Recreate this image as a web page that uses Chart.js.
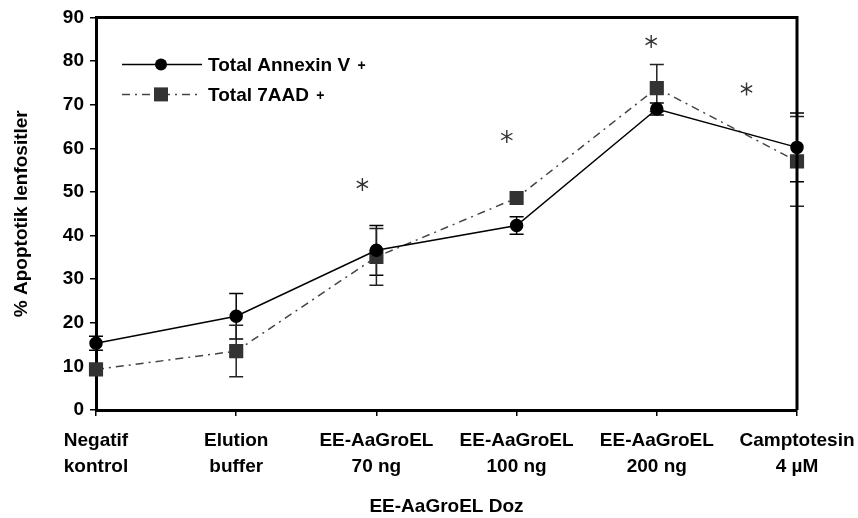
<!DOCTYPE html>
<html>
<head>
<meta charset="utf-8">
<script src="https://cdn.jsdelivr.net/npm/chart.js@4"></script>
<style>
  html, body { margin: 0; padding: 0; background: #fff; }
  #wrap { width: 858px; height: 518px; }
</style>
</head>
<body>
<div id="wrap"><canvas id="grafik" width="858" height="518"></canvas></div>
<script>
// kategoriler ve olcumler
var dozlar = [["Negatif", "kontrol"], ["Elution", "buffer"], ["EE-AaGroEL", "70 ng"], ["EE-AaGroEL", "100 ng"], ["EE-AaGroEL", "200 ng"], ["Camptotesin", "4 µM"]];
var annexin = [15.3, 21.5, 36.6, 42.3, 69.0, 60.2];
var annexin_hata = [1.6, 5.2, 5.7, 2.0, 1.4, 7.9];
var aad = [9.3, 13.5, 35.1, 48.6, 73.8, 57.0];
var aad_hata = [0, 5.9, 6.5, 0, 5.4, 10.3];
var yildiz_x = [1.9, 2.93, 3.96, 4.64];
var yildiz_y = [51.7, 62.7, 84.5, 73.6];
var y_ticks = [0, 10, 20, 30, 40, 50, 60, 70, 80, 90];

var ctx = document.getElementById('grafik').getContext('2d');

var ekstra = {
    id: 'ekstra',
    beforeDatasetsDraw: function (chart) {
        var c = chart.ctx, xs = chart.scales.x, ys = chart.scales.y;
        c.save();
        c.lineWidth = 1.5;
        [[annexin, annexin_hata, '#000'], [aad, aad_hata, '#222']].forEach(function (s) {
            c.strokeStyle = s[2];
            for (var i = 0; i < s[0].length; i++) {
                if (!s[1][i]) continue;
                var x = xs.getPixelForValue(i);
                var y1 = ys.getPixelForValue(s[0][i] + s[1][i]);
                var y2 = ys.getPixelForValue(s[0][i] - s[1][i]);
                c.beginPath();
                c.moveTo(x, y1); c.lineTo(x, y2);
                c.moveTo(x - 7, y1); c.lineTo(x + 7, y1);
                c.moveTo(x - 7, y2); c.lineTo(x + 7, y2);
                c.stroke();
            }
        });
        c.restore();
    },
    afterDraw: function (chart) {
        var c = chart.ctx, a = chart.chartArea, xs = chart.scales.x, ys = chart.scales.y;
        c.save();
        // kutu
        c.strokeStyle = '#000';
        c.lineWidth = 3;
        c.beginPath();
        c.moveTo(a.left, a.top); c.lineTo(a.right, a.top); c.lineTo(a.right, a.bottom);
        c.stroke();
        // yildizlar (6 kollu)
        c.strokeStyle = '#333';
        c.lineWidth = 1.4;
        for (var i = 0; i < yildiz_x.length; i++) {
            var px = xs.getPixelForValue(yildiz_x[i]), py = ys.getPixelForValue(yildiz_y[i]);
            c.beginPath();
            for (var k = 0; k < 3; k++) {
                var ang = Math.PI / 2 + k * Math.PI / 3;
                c.moveTo(px + 6.5 * Math.cos(ang), py + 6.5 * Math.sin(ang));
                c.lineTo(px - 6.5 * Math.cos(ang), py - 6.5 * Math.sin(ang));
            }
            c.stroke();
        }
        // legend
        var lx = a.left + 26, ly = a.top + 47;
        c.lineWidth = 1.5;
        c.strokeStyle = '#000';
        c.beginPath(); c.moveTo(lx, ly); c.lineTo(lx + 80, ly); c.stroke();
        c.fillStyle = '#000';
        c.beginPath(); c.arc(lx + 39, ly, 6, 0, Math.PI * 2); c.fill();
        c.strokeStyle = '#444';
        c.setLineDash([8, 5, 2, 5]);
        c.beginPath(); c.moveTo(lx, ly + 30); c.lineTo(lx + 80, ly + 30); c.stroke();
        c.setLineDash([]);
        c.fillStyle = '#333';
        c.fillRect(lx + 32, ly + 23, 14, 14);
        c.fillStyle = '#000';
        c.font = 'bold 19px "Liberation Sans", Arial, sans-serif';
        c.textAlign = 'left';
        c.textBaseline = 'middle';
        c.fillText('Total Annexin V', lx + 86, ly + 1);
        c.fillText('Total 7AAD', lx + 86, ly + 31);
        var w1 = c.measureText('Total Annexin V ').width, w2 = c.measureText('Total 7AAD ').width;
        c.font = 'bold 14px "Liberation Sans", Arial, sans-serif';
        c.fillText('+', lx + 88 + w1, ly + 2);
        c.fillText('+', lx + 88 + w2, ly + 32);
        c.restore();
    }
};

new Chart(ctx, {
    type: 'line',
    data: {
        labels: dozlar,
        datasets: [{
            label: 'Total Annexin V +',
            data: annexin,
            borderColor: '#000',
            backgroundColor: '#000',
            borderWidth: 1.5,
            pointStyle: 'circle',
            pointRadius: 6,
            pointHoverRadius: 6,
            tension: 0,
            fill: false
        }, {
            label: 'Total 7AAD +',
            data: aad,
            borderColor: '#444',
            backgroundColor: '#333',
            borderWidth: 1.5,
            borderDash: [8, 5, 2, 5],
            pointStyle: 'rect',
            pointRadius: 10,
            pointHoverRadius: 10,
            pointBorderWidth: 0,
            tension: 0,
            fill: false
        }]
    },
    options: {
        responsive: false,
        animation: false,
        layout: { padding: { top: 15, right: 61, left: 0, bottom: 0 } },
        plugins: { legend: { display: false }, tooltip: { enabled: false } },
        scales: {
            x: {
                offset: false,
                afterFit: function (s) { s.height = 108; s.paddingLeft = 0; s.paddingRight = 0; },
                grid: { drawOnChartArea: false, drawTicks: true, tickLength: 6, color: '#000', lineWidth: 1.5 },
                border: { color: '#000', width: 3 },
                ticks: {
                    color: '#000', maxRotation: 0, autoSkip: false, padding: 12,
                    font: { family: '"Liberation Sans", Arial, sans-serif', weight: 'bold', size: 19, lineHeight: 1.37 }
                },
                title: {
                    display: true, text: 'EE-AaGroEL Doz', color: '#000',
                    font: { family: '"Liberation Sans", Arial, sans-serif', weight: 'bold', size: 19 },
                    padding: { top: 8, bottom: 0 }
                }
            },
            y: {
                min: 0, max: 90,
                afterFit: function (s) { s.width = 96; },
                afterBuildTicks: function (s) { s.ticks = y_ticks.map(function (v) { return { value: v }; }); },
                grid: { drawOnChartArea: false, drawTicks: true, tickLength: 6, color: '#000', lineWidth: 1.5 },
                border: { color: '#000', width: 3 },
                ticks: {
                    color: '#000', padding: 6,
                    font: { family: '"Liberation Sans", Arial, sans-serif', weight: 'bold', size: 19 }
                },
                title: {
                    display: true, text: '% Apoptotik lenfositler', color: '#000',
                    font: { family: '"Liberation Sans", Arial, sans-serif', weight: 'bold', size: 19 },
                    padding: { top: 10, bottom: 4 }
                }
            }
        }
    },
    plugins: [ekstra]
});
</script>
</body>
</html>
